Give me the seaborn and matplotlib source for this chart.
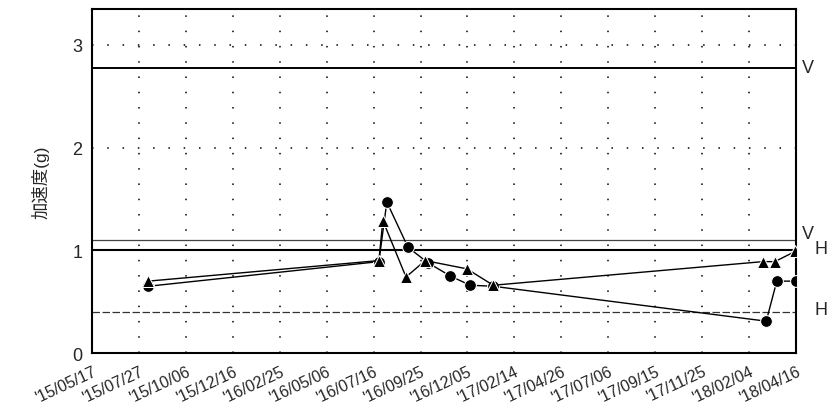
import pandas as pd
import numpy as np
import matplotlib
matplotlib.use('Agg')
import matplotlib.pyplot as plt
import matplotlib.dates as mdates
import seaborn as sns

# データ
circle_dates = ['2015-08-10', '2016-07-24', '2016-08-05', '2016-09-06', '2016-10-06',
                '2016-11-09', '2016-12-09', '2017-01-13', '2018-03-02', '2018-03-18', '2018-04-16']
circle_vals = [0.65, 0.89, 1.47, 1.03, 0.88, 0.75, 0.66, 0.65, 0.31, 0.70, 0.70]

tri_dates = ['2015-08-10', '2016-07-24', '2016-07-30', '2016-09-03', '2016-10-02',
             '2016-12-04', '2017-01-13', '2018-02-25', '2018-03-15', '2018-04-15']
tri_vals = [0.70, 0.90, 1.29, 0.74, 0.90, 0.82, 0.66, 0.89, 0.89, 0.99]

tick_dates = pd.date_range('2015-05-17', periods=16, freq='71D')

hline_vals = [2.78, 1.1, 1.0, 0.4]
hline_labels = ['V', 'V', 'H', 'H']

df = pd.concat([
    pd.DataFrame({'date': pd.to_datetime(circle_dates), 'value': circle_vals, 'series': 'c'}),
    pd.DataFrame({'date': pd.to_datetime(tri_dates), 'value': tri_vals, 'series': 't'}),
])

sns.set_style('white')
plt.rcParams['font.family'] = ['Liberation Sans', 'Noto Sans CJK JP', 'DejaVu Sans']

fig = plt.figure(figsize=(8.32, 4.14), dpi=100)
ax = fig.add_axes([0.1106, 0.1449, 0.8461, 0.8309])

# グリッド（点線）
for d in tick_dates[1:-1]:
    ax.axvline(d, color='black', lw=1.1, linestyle=(0, (1, 9)), zorder=1)
for yv in [2, 3]:
    ax.axhline(yv, color='black', lw=1.1, linestyle=(0, (1, 9)), zorder=1)

# 基準線
ax.axhline(hline_vals[0], color='black', lw=1.4, zorder=2)
ax.axhline(hline_vals[1], color='#444444', lw=0.9, zorder=2)
ax.axhline(hline_vals[2], color='black', lw=1.5, zorder=2)
ax.axhline(hline_vals[3], color='#333333', lw=0.9, linestyle=(0, (6, 2)), zorder=2)

sns.lineplot(data=df, x='date', y='value', style='series', markers={'c': 'o', 't': '^'},
             dashes=False, color='black', estimator=None, lw=1.0, markersize=8.5,
             legend=False, ax=ax, zorder=3)

ax.set_xlim(tick_dates[0], tick_dates[-1])
ax.set_ylim(0, 3.35)
ax.set_xticks(tick_dates)
ax.set_xticklabels([d.strftime("'%y/%m/%d") for d in tick_dates], rotation=25,
                   ha='right', rotation_mode='anchor', fontsize=11.5)
ax.set_yticks([0, 1, 2, 3])
ax.set_yticks([0.5, 1.5, 2.5], minor=True)
ax.tick_params(axis='both', which='both', direction='inout', length=7, width=1.2,
               color='black', labelsize=13)
ax.tick_params(axis='x', labelsize=11.5, pad=4)
ax.set_xlabel('')
ax.set_ylabel('加速度(g)', fontsize=12.5, labelpad=16)

for sp in ax.spines.values():
    sp.set_color('black')
    sp.set_linewidth(1.5)

# 右側のラベル
xt = [1.008, 1.008, 1.027, 1.027]
yt = [2.78, 1.16, 1.02, 0.42]
for x, y, lab in zip(xt, yt, hline_labels):
    ax.text(x, y, lab, transform=ax.get_yaxis_transform(), fontsize=13,
            va='center', ha='left', clip_on=False)

fig.savefig('out.png', dpi=100)
